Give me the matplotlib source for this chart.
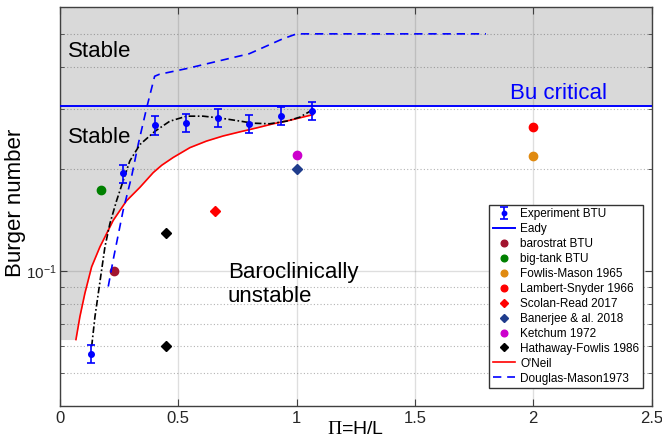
import matplotlib
matplotlib.use('Agg')
import matplotlib.pyplot as plt
from matplotlib.ticker import NullFormatter, LogLocator
import numpy as np

plt.rcParams['font.family'] = ['Liberation Sans', 'DejaVu Sans']
plt.rcParams['mathtext.fontset'] = 'custom'
plt.rcParams['mathtext.rm'] = 'Liberation Serif'
plt.rcParams['mathtext.it'] = 'Liberation Serif:italic'

# critical Burger number (Eady)
bu_c = 0.307

# experiment BTU
exp_x = [0.133, 0.267, 0.400, 0.533, 0.667, 0.800, 0.933, 1.067]
exp_y = [0.057, 0.194, 0.269, 0.273, 0.283, 0.272, 0.287, 0.297]
exp_err = [0.0035, 0.012, 0.017, 0.017, 0.017, 0.017, 0.018, 0.018]

# fit through the experiment points
fit_x = [0.134, 0.148, 0.162, 0.176, 0.190, 0.211, 0.239, 0.267, 0.295, 0.338,
         0.401, 0.464, 0.535, 0.605, 0.675, 0.745, 0.816, 0.886, 0.957, 1.013, 1.069]
fit_y = [0.060, 0.0735, 0.086, 0.1007, 0.1178, 0.138, 0.161, 0.1845, 0.211, 0.236,
         0.258, 0.2764, 0.286, 0.286, 0.2825, 0.2777, 0.2727, 0.2716, 0.2764, 0.284, 0.299]

# O'Neil
oneil_x = [0.0675, 0.0844, 0.1055, 0.1338, 0.1688, 0.190, 0.225, 0.281, 0.3376, 0.394,
           0.430, 0.478, 0.549, 0.619, 0.689, 0.759, 0.830, 0.900, 0.970, 1.069]
oneil_y = [0.0628, 0.0735, 0.0861, 0.1029, 0.1178, 0.126, 0.141, 0.161, 0.1764, 0.195,
           0.205, 0.216, 0.231, 0.2415, 0.250, 0.257, 0.264, 0.2715, 0.278, 0.289]

# Douglas-Mason 1973
dm_x = [0.204, 0.225, 0.267, 0.302, 0.331, 0.366, 0.400, 0.420, 0.535, 0.800, 0.940, 1.000, 1.800]
dm_y = [0.090, 0.108, 0.151, 0.189, 0.237, 0.302, 0.375, 0.380, 0.395, 0.437, 0.483, 0.500, 0.500]

# other experiments
baro_x, baro_y = [0.228], [0.100]
bigtank_x, bigtank_y = [0.172], [0.173]
fowlis_x, fowlis_y = [2.0], [0.218]
lambert_x, lambert_y = [2.0], [0.265]
scolan_x, scolan_y = [0.654], [0.150]
banerjee_x, banerjee_y = [1.0], [0.200]
ketchum_x, ketchum_y = [1.0], [0.219]
hathaway_x, hathaway_y = [0.45, 0.45], [0.129, 0.060]

xticks = [0, 0.5, 1, 1.5, 2, 2.5]
xticklabels = ['0', '0.5', '1', '1.5', '2', '2.5']

fig = plt.figure(figsize=(6.62, 4.43), dpi=100)
ax = fig.add_axes([0.0906, 0.0835, 0.8937, 0.9007])
ax.set_yscale('log')

# stable regions
gray = '#d9d9d9'
ax.axhspan(bu_c, 0.6, color=gray, lw=0, zorder=0.8)
fx = [0.0] + oneil_x
fy = [oneil_y[0]] + oneil_y
ax.fill_between(fx, fy, bu_c, color=gray, lw=0, zorder=0.8)

h_exp = ax.errorbar(exp_x, exp_y, yerr=exp_err, fmt='o', color='#0000ff', ms=4,
                    capsize=3, elinewidth=1.2, capthick=1.2, label='Experiment BTU', zorder=5)
h_eady = ax.axhline(bu_c, color='#0000ff', lw=1.4, label='Eady', zorder=3)
ax.plot(fit_x, fit_y, color='black', ls=(0, (4, 1.5, 1, 1.5)), lw=1.2, zorder=4)

ms = 6
h = [h_exp, h_eady]
h += ax.plot(baro_x, baro_y, 'o', color='#a2142f', ms=ms, ls='none', label='barostrat BTU')
h += ax.plot(bigtank_x, bigtank_y, 'o', color='#008000', ms=ms, ls='none', label='big-tank BTU')
h += ax.plot(fowlis_x, fowlis_y, 'o', color='#e08a10', ms=ms, ls='none', label='Fowlis-Mason 1965')
h += ax.plot(lambert_x, lambert_y, 'o', color='#ff0000', ms=ms, ls='none', label='Lambert-Snyder 1966')
h += ax.plot(scolan_x, scolan_y, 'D', color='#ff0000', ms=5, ls='none', label='Scolan-Read 2017')
h += ax.plot(banerjee_x, banerjee_y, 'D', color='#1f3c8c', ms=5, ls='none', label='Banerjee & al. 2018')
h += ax.plot(ketchum_x, ketchum_y, 'o', color='#cc00cc', ms=ms, ls='none', label='Ketchum 1972')
h += ax.plot(hathaway_x, hathaway_y, 'D', color='black', ms=5, ls='none', label='Hathaway-Fowlis 1986')
h += ax.plot(oneil_x, oneil_y, color='#ff0000', lw=1.2, label="O'Neil", zorder=3)
h += ax.plot(dm_x, dm_y, color='#0000ff', ls=(0, (5, 3.5)), lw=1.2, label='Douglas-Mason1973', zorder=3)

ax.text(0.034, 0.443, 'Stable', fontsize=16, va='center', ha='left')
ax.text(0.034, 0.247, 'Stable', fontsize=16, va='center', ha='left')
ax.text(0.709, 0.091, 'Baroclinically\nunstable', fontsize=16, va='center', ha='left')
ax.text(1.903, bu_c * 1.01, 'Bu critical', fontsize=16, va='bottom', ha='left', color='#0000ff')

ax.set_xlim(0, 2.5)
ax.set_ylim(0.04, 0.6)
ax.set_xticks(xticks)
ax.set_xticklabels(xticklabels)
ax.yaxis.set_major_locator(LogLocator(base=10))
ax.yaxis.set_minor_locator(LogLocator(base=10, subs=np.arange(2, 10)))
ax.yaxis.set_minor_formatter(NullFormatter())

ax.grid(True, which='major', axis='both', color='#262626', alpha=0.15, lw=1)
ax.grid(True, which='minor', axis='y', color='#262626', alpha=0.35, lw=0.8, ls=(0, (1, 2)))

ax.tick_params(which='both', direction='in', top=True, right=True, labelsize=12,
               color='#404040', labelcolor='#262626')
ax.tick_params(axis='y', labelsize=11, pad=2)
ax.tick_params(which='major', length=5)
ax.tick_params(which='minor', length=3)
for s in ax.spines.values():
    s.set_color('#404040')
    s.set_linewidth(1)

ax.set_xlabel(r'$\Pi$=H/L', fontsize=14)
ax.xaxis.set_label_coords(0.5, -0.038)
ax.set_ylabel('Burger number', fontsize=16)
ax.yaxis.set_label_coords(-0.058, 0.51)

leg = ax.legend(handles=h, loc='lower right', bbox_to_anchor=(0.985, 0.045), fontsize=8.5,
                fancybox=False, framealpha=1, edgecolor='#333333', borderaxespad=0,
                handlelength=1.9, labelspacing=0.25, borderpad=0.3, handletextpad=0.4,
                markerscale=0.8)
leg.get_frame().set_linewidth(1)

fig.savefig('out.png', dpi=100)
